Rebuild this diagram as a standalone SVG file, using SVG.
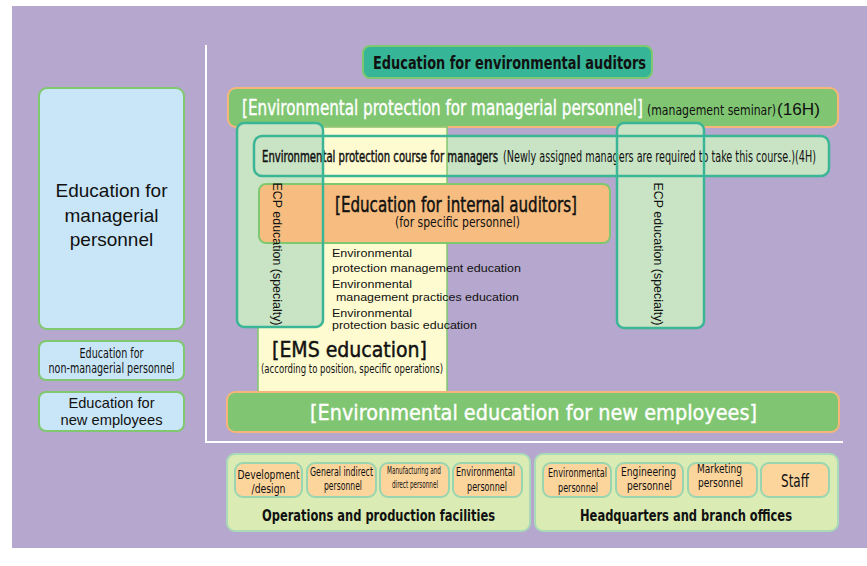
<svg xmlns="http://www.w3.org/2000/svg" width="867" height="566" viewBox="0 0 867 566">
<style>
.n{font-family:"Liberation Sans Narrow","DejaVu Sans Condensed","Liberation Sans",Arial,sans-serif;}
.a{font-family:"Liberation Sans",Arial,sans-serif;}
.b{font-weight:bold;}
.w{fill:#ffffff;}
.k{fill:#111111;}
.md{stroke:#111111;stroke-width:0.45;}
.mw{stroke:#ffffff;stroke-width:0.35;}
.m{text-anchor:middle;}
.bar{fill:#80c672;stroke:#f6b679;stroke-width:2;}
.lb{fill:#c9e6f8;stroke:#80c870;stroke-width:2;}
.lg{fill:#c9e4c4;}
.tl{fill:none;stroke:#3ab596;stroke-width:2.5;}
.fo{fill:#daebb3;stroke:#a9dbb8;stroke-width:2;}
.fs{fill:#fcd59d;stroke:#98d5b0;stroke-width:2;}
</style>
<rect x="0" y="0" width="867" height="566" fill="#ffffff"/>
<rect x="12" y="6" width="855" height="542" fill="#b5a7cd"/>
<g id="connectors">
<path d="M206 45 V442 H843" fill="none" stroke="#ffffff" stroke-width="2"/>
</g>
<g id="auditors">
<rect x="363" y="46" width="289" height="32" rx="7" fill="#36b696" stroke="#7ec86f" stroke-width="2"/>
<text class="n b k" x="373" y="69" font-size="17" textLength="273" lengthAdjust="spacingAndGlyphs">Education for environmental auditors</text>
</g>
<g id="managerial-protection">
<rect class="bar" x="228" y="88" width="610" height="39" rx="8"/>
<text class="n w mw" x="242" y="115" font-size="21" textLength="401" lengthAdjust="spacingAndGlyphs">[Environmental protection for managerial personnel]</text>
<text class="n k" x="647" y="115" font-size="14" textLength="129" lengthAdjust="spacingAndGlyphs">(management seminar)</text>
<text class="a k" x="777" y="115" font-size="17" textLength="43" lengthAdjust="spacingAndGlyphs">(16H)</text>
</g>
<g id="course-fill">
<rect class="lg" x="254" y="136" width="575" height="40" rx="8"/>
</g>
<g id="ems">
<rect x="258" y="127" width="189" height="268" fill="#fffbd0" stroke="#80c870" stroke-width="1.5"/>
<text class="n k md" x="272" y="357" font-size="22" textLength="155" lengthAdjust="spacingAndGlyphs">[EMS education]</text>
<text class="n k" x="261" y="373" font-size="12" textLength="182" lengthAdjust="spacingAndGlyphs">(according to position, specific operations)</text>
<text class="a k" x="332" y="257" font-size="11.5" textLength="80" lengthAdjust="spacingAndGlyphs">Environmental</text>
<text class="a k" x="332" y="272" font-size="11.5" textLength="189" lengthAdjust="spacingAndGlyphs">protection management education</text>
<text class="a k" x="332" y="288" font-size="11.5" textLength="80" lengthAdjust="spacingAndGlyphs">Environmental</text>
<text class="a k" x="336" y="301" font-size="11.5" textLength="183" lengthAdjust="spacingAndGlyphs">management practices education</text>
<text class="a k" x="332" y="317" font-size="11.5" textLength="80" lengthAdjust="spacingAndGlyphs">Environmental</text>
<text class="a k" x="332" y="329" font-size="11.5" textLength="145" lengthAdjust="spacingAndGlyphs">protection basic education</text>
</g>
<g id="ecp-fills">
<rect class="lg" x="237" y="123" width="86" height="204" rx="7"/>
<rect class="lg" x="617" y="123" width="87" height="205" rx="7"/>
</g>
<g id="internal-auditors">
<rect x="259" y="184" width="351" height="59" rx="7" fill="#f7bd80" stroke="#80c870" stroke-width="2"/>
<text class="n k md" x="335" y="212" font-size="21" textLength="242" lengthAdjust="spacingAndGlyphs">[Education for internal auditors]</text>
<text class="n k" x="395" y="227" font-size="14" textLength="125" lengthAdjust="spacingAndGlyphs">(for specific personnel)</text>
</g>
<g id="course">
<rect class="tl" x="254" y="136" width="575" height="40" rx="8"/>
<text class="n k md" x="262" y="162" font-size="15" textLength="236" lengthAdjust="spacingAndGlyphs">Environmental protection course for managers</text>
<text class="n k" x="503" y="162" font-size="15" textLength="313" lengthAdjust="spacingAndGlyphs">(Newly assigned managers are required to take this course.)(4H)</text>
</g>
<g id="ecp-left">
<rect class="tl" x="237" y="123" width="86" height="204" rx="7"/>
<text class="a k m" transform="translate(277,254) rotate(90)" x="0" y="4.5" font-size="12.5" textLength="143" lengthAdjust="spacingAndGlyphs">ECP education (specialty)</text>
</g>
<g id="ecp-right">
<rect class="tl" x="617" y="123" width="87" height="205" rx="7"/>
<text class="a k m" transform="translate(658,254) rotate(90)" x="0" y="4.5" font-size="12.5" textLength="143" lengthAdjust="spacingAndGlyphs">ECP education (specialty)</text>
</g>
<g id="new-employees-education">
<rect class="bar" x="227" y="392" width="612" height="40" rx="8"/>
<text class="n w mw" x="310" y="420" font-size="21" textLength="447" lengthAdjust="spacingAndGlyphs">[Environmental education for new employees]</text>
</g>
<g id="left-managerial">
<rect class="lb" x="39" y="88" width="145" height="241" rx="8"/>
<text class="a k m" x="111.5" y="197" font-size="19">Education for</text>
<text class="a k m" x="111.5" y="222" font-size="19">managerial</text>
<text class="a k m" x="111.5" y="246" font-size="19">personnel</text>
</g>
<g id="left-nonmanagerial">
<rect class="lb" x="39" y="341" width="145" height="39" rx="7"/>
<text class="n k m" x="111.5" y="358" font-size="14" textLength="64" lengthAdjust="spacingAndGlyphs">Education for</text>
<text class="n k m" x="111.5" y="373" font-size="14" textLength="126" lengthAdjust="spacingAndGlyphs">non-managerial personnel</text>
</g>
<g id="left-new">
<rect class="lb" x="39" y="392" width="145" height="39" rx="7"/>
<text class="a k m" x="111.5" y="408" font-size="15" textLength="86" lengthAdjust="spacingAndGlyphs">Education for</text>
<text class="a k m" x="111.5" y="425" font-size="15" textLength="102" lengthAdjust="spacingAndGlyphs">new employees</text>
</g>
<g id="operations">
<rect class="fo" x="227" y="454" width="303" height="77" rx="8"/>
<text class="n b k m" x="378.5" y="521" font-size="15" textLength="233" lengthAdjust="spacingAndGlyphs">Operations and production facilities</text>
</g>
<g id="op-development">
<rect class="fs" x="235" y="463" width="67" height="34" rx="8"/>
<text class="n k m" x="268.5" y="479" font-size="13" textLength="62" lengthAdjust="spacingAndGlyphs">Development</text>
<text class="n k m" x="268.5" y="493" font-size="13" textLength="34" lengthAdjust="spacingAndGlyphs">/design</text>
</g>
<g id="op-general">
<rect class="fs" x="307" y="463" width="69" height="34" rx="8"/>
<text class="n k m" x="341.5" y="476" font-size="12" textLength="63" lengthAdjust="spacingAndGlyphs">General indirect</text>
<text class="n k m" x="343" y="490" font-size="12" textLength="38" lengthAdjust="spacingAndGlyphs">personnel</text>
</g>
<g id="op-manufacturing">
<rect class="fs" x="380" y="463" width="69" height="34" rx="8"/>
<text class="n k m" x="414" y="474" font-size="11" textLength="54" lengthAdjust="spacingAndGlyphs">Manufacturing and</text>
<text class="n k m" x="415" y="488" font-size="11" textLength="46" lengthAdjust="spacingAndGlyphs">direct personnel</text>
</g>
<g id="op-environmental">
<rect class="fs" x="453" y="463" width="69" height="34" rx="8"/>
<text class="n k m" x="485.5" y="476" font-size="12" textLength="59" lengthAdjust="spacingAndGlyphs">Environmental</text>
<text class="n k m" x="487" y="491" font-size="12" textLength="40" lengthAdjust="spacingAndGlyphs">personnel</text>
</g>
<g id="headquarters">
<rect class="fo" x="535" y="454" width="303" height="77" rx="8"/>
<text class="n b k m" x="686" y="521" font-size="15" textLength="212" lengthAdjust="spacingAndGlyphs">Headquarters and branch offices</text>
</g>
<g id="hq-environmental">
<rect class="fs" x="543" y="463" width="68" height="34" rx="8"/>
<text class="n k m" x="577.5" y="477" font-size="12" textLength="59" lengthAdjust="spacingAndGlyphs">Environmental</text>
<text class="n k m" x="578" y="492" font-size="12" textLength="40" lengthAdjust="spacingAndGlyphs">personnel</text>
</g>
<g id="hq-engineering">
<rect class="fs" x="616" y="463" width="67" height="34" rx="8"/>
<text class="n k m" x="648.5" y="476" font-size="13" textLength="55" lengthAdjust="spacingAndGlyphs">Engineering</text>
<text class="n k m" x="649.5" y="490" font-size="13" textLength="45" lengthAdjust="spacingAndGlyphs">personnel</text>
</g>
<g id="hq-marketing">
<rect class="fs" x="688" y="463" width="69" height="34" rx="8"/>
<text class="n k m" x="719.5" y="473" font-size="13" textLength="45" lengthAdjust="spacingAndGlyphs">Marketing</text>
<text class="n k m" x="720.5" y="487" font-size="13" textLength="45" lengthAdjust="spacingAndGlyphs">personnel</text>
</g>
<g id="hq-staff">
<rect class="fs" x="761" y="463" width="68" height="34" rx="8"/>
<text class="n k m" x="795" y="487" font-size="17" textLength="28" lengthAdjust="spacingAndGlyphs">Staff</text>
</g>
</svg>
